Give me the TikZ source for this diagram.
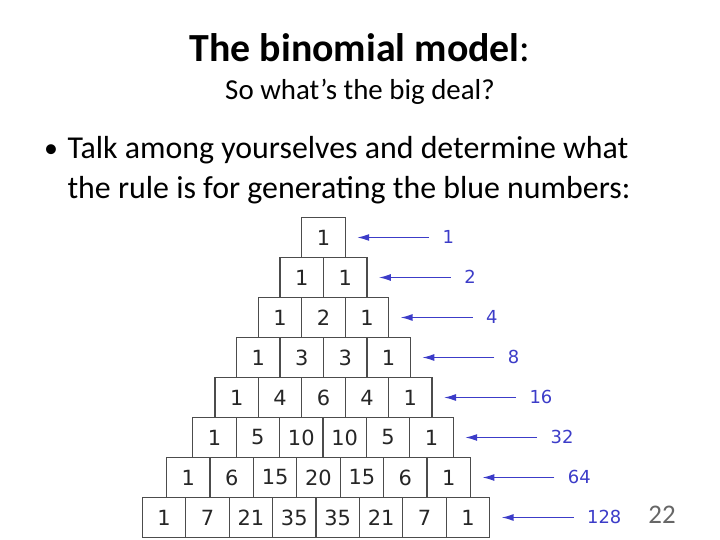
\documentclass[tikz,border=0pt]{standalone}
\usepackage{fontspec}
\setmainfont{Carlito}
\newfontfamily\verd{DejaVu Sans}
\usetikzlibrary{arrows.meta}
\definecolor{arrblue}{RGB}{60,60,200}
\begin{document}
\begin{tikzpicture}[x=1bp,y=-1bp,
  cell/.style={draw=black!70,line width=1.2bp,minimum width=43.5bp,minimum height=39.5bp,inner sep=0,font=\verd\fontsize{21}{21}\selectfont,text=black!85},
  lab/.style={font=\verd\fontsize{18}{18}\selectfont,text=arrblue,anchor=west},
  arr/.style={draw=arrblue,line width=1.3bp,-{Latex[length=12bp,width=7bp]}}]
\useasboundingbox (0,0) rectangle (720,540);
\node[font=\bfseries\fontsize{40}{40}\selectfont] (title) at (360,48) {The binomial model\textmd{:}};
\node[font=\fontsize{29}{29}\selectfont] (sub) at (360,92) {So what’s the big deal?};
\node[font=\fontsize{28}{28}\selectfont] (b) at (51,151) {•};
\node[font=\fontsize{32}{40}\selectfont,anchor=west,align=left] (t) at (64,170) {Talk among yourselves and determine what\\the rule is for generating the blue numbers:};
\foreach \r/\cx/\vals/\lbl in {
 0/323.5/{1}/1, 1/323.5/{1,1}/2, 2/323.5/{1,2,1}/4, 3/323.5/{1,3,3,1}/8,
 4/323.5/{1,4,6,4,1}/16, 5/323/{1,5,10,10,5,1}/32, 6/318.5/{1,6,15,20,15,6,1}/64,
 7/316/{1,7,21,35,35,21,7,1}/128}{
  \pgfmathsetmacro{\n}{\r+1}
  \pgfmathsetmacro{\y}{237.5+40*\r}
  \foreach \v [count=\i] in \vals {
    \pgfmathsetmacro{\x}{\cx+43.4*(\i-0.5-\n/2)}
    \node[cell] (c\r-\i) at (\x,\y) {\v};
  }
  \pgfmathsetmacro{\xr}{\cx+43.4*\n/2}
  \coordinate (s\r) at (\xr+84,\y);
  \coordinate (e\r) at (\xr+12,\y);
  \draw[arr] (s\r) -- (e\r);
  \node[lab] (l\r) at (\xr+94,\y-1) {\lbl};
}
\node[font=\fontsize{27}{27}\selectfont,text=black!60] (pg) at (662,515) {22};
\end{tikzpicture}
\end{document}
